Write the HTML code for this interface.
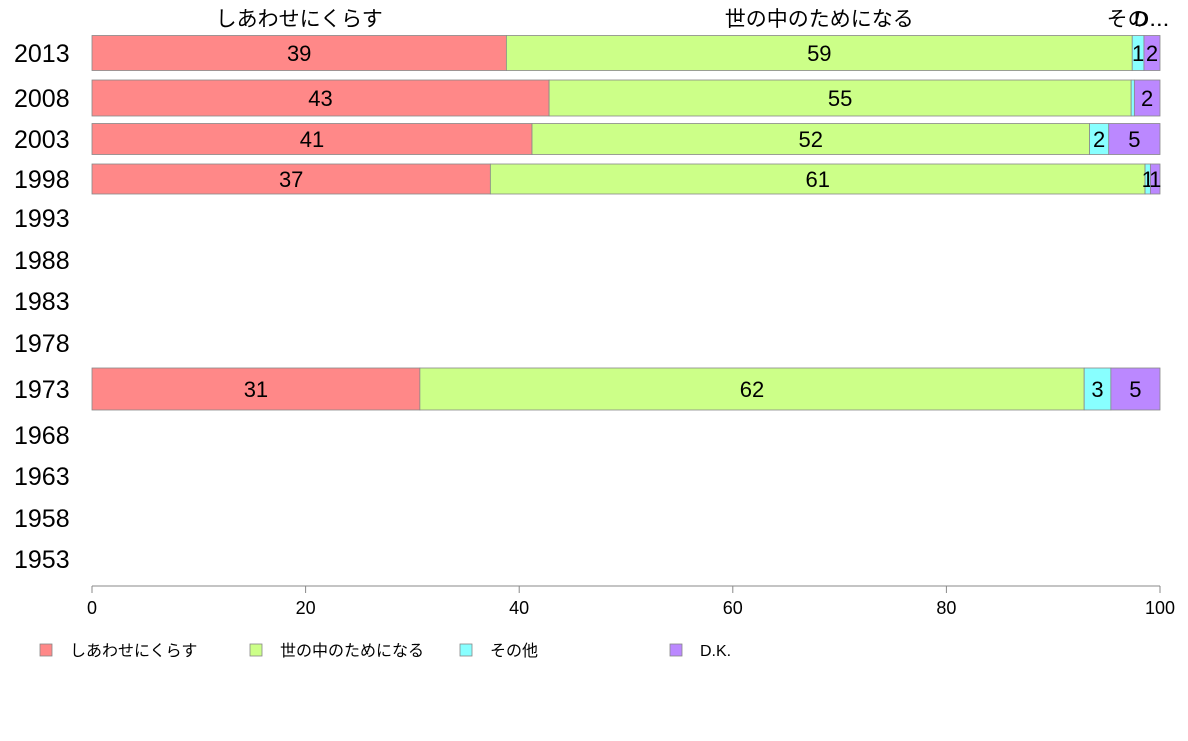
<!DOCTYPE html>
<html><head><meta charset="utf-8"><style>
body{margin:0;background:#fff;font-family:"Liberation Sans","Noto Sans CJK JP",sans-serif}
</style></head><body>
<svg id="c" width="1188" height="736" xmlns="http://www.w3.org/2000/svg" font-family="Liberation Sans, Noto Sans CJK JP, sans-serif"></svg>
<script>
const years=["2013","2008","2003","1998","1993","1988","1983","1978","1973","1968","1963","1958","1953"];
const categories=["しあわせにくらす","世の中のためになる","その他","D.K."];
const topLabels=["しあわせにくらす","世の中のためになる","その…","D…"];
const s1=[38.8,42.8,41.2,37.3,null,null,null,null,30.7,null,null,null,null];
const s2=[58.6,54.5,52.2,61.3,null,null,null,null,62.2,null,null,null,null];
const s3=[1.1,0.3,1.8,0.5,null,null,null,null,2.5,null,null,null,null];
const s4=[1.5,2.4,4.8,0.9,null,null,null,null,4.6,null,null,null,null];
const xTicks=[0,20,40,60,80,100];
const colors=["#ff8888","#ccff88","#88ffff","#bb88ff"];
// layout: row band centers and bar heights
const rowC=[53,98,139,179,218,260,301,343,389,435,476,518,559];
const rowH=[35,36,31,30,0,0,0,0,42,0,0,0,0];
const x0=92,x1=1160;
const X=v=>x0+(x1-x0)*v/100;
const svg=document.getElementById('c');
const NS="http://www.w3.org/2000/svg";
function mk(t,a,p){const e=document.createElementNS(NS,t);for(const k in a)e.setAttribute(k,a[k]);(p||svg).appendChild(e);return e;}
const series=[s1,s2,s3,s4];
years.forEach((y,i)=>{
  const t=mk('text',{x:14,y:rowC[i]+9,'font-size':25,fill:'#000'});t.textContent=y;
  
  
  if(s1[i]==null)return;
  let acc=0;
  series.forEach((s,k)=>{
    const v=s[i];const a=X(acc),b=X(acc+v);
    const r=mk('rect',{x:a,y:rowC[i]-rowH[i]/2,width:b-a,height:rowH[i],fill:colors[k],stroke:'#888','stroke-width':0.8});
    
    
    const rv=Math.round(v);
    if(rv>=1){
      const tt=mk('text',{x:(a+b)/2,y:rowC[i]+8,'font-size':22,'text-anchor':'middle',fill:'#000'});tt.textContent=rv;
      
      
    }
    if(i===0){
      const tl=mk('text',{x:(a+b)/2,y:26,'font-size':21,'text-anchor':'middle',fill:'#000'});tl.textContent=topLabels[k];
      
      
    }
    acc+=v;
  });
});
const ax=mk('line',{x1:x0,x2:x1,y1:586,y2:586,stroke:'#888'});


xTicks.forEach(v=>{
  mk('line',{x1:X(v),x2:X(v),y1:586,y2:593,stroke:'#888'});
  const t=mk('text',{x:X(v),y:614,'font-size':18,'text-anchor':'middle',fill:'#000'});t.textContent=v;
  
  
});
const lx=[40,250,460,670];
categories.forEach((c,k)=>{
  const g=mk('g',{});
  
  
  mk('rect',{x:lx[k],y:644,width:12,height:12,fill:colors[k],stroke:'#888','stroke-width':0.8},g);
  const t=mk('text',{x:lx[k]+30,y:656,'font-size':16,fill:'#000'},g);t.textContent=c;
});
</script>
</body></html>
